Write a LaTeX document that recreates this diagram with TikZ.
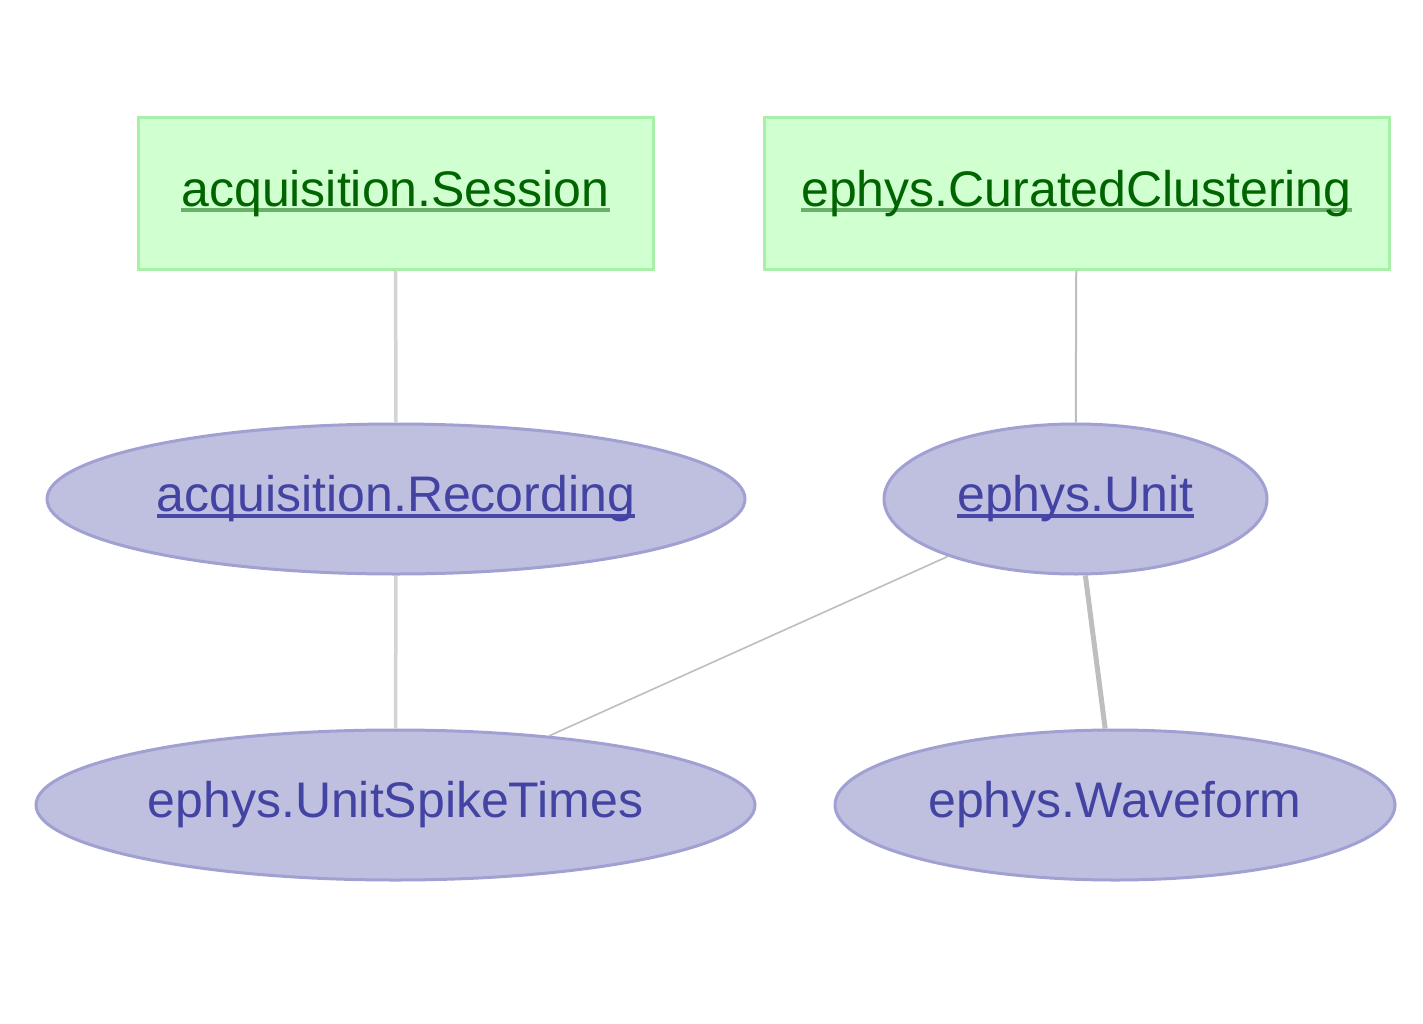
\documentclass[tikz,border=0pt]{standalone}
\usepackage{fontspec}
\setmainfont{Liberation Sans}
\usetikzlibrary{shapes.geometric}
\definecolor{mfill}{HTML}{D0FFD0}
\definecolor{mdraw}{HTML}{A8F0A8}
\definecolor{mtext}{HTML}{006400}
\definecolor{mul}{HTML}{6AB06A}
\definecolor{cfill}{HTML}{BFC0DF}
\definecolor{cdraw}{HTML}{A0A0D2}
\definecolor{ctext}{HTML}{4343A3}
\definecolor{cul}{HTML}{4848A8}
\definecolor{eA}{HTML}{D4D4D4}
\definecolor{eB}{HTML}{BEBEBE}
\newcommand{\myul}[2]{\setbox0\hbox{#2}\rlap{\color{#1}\rule[-6pt]{\wd0}{4pt}}\box0}
\tikzset{
  manual/.style={rectangle, draw=mdraw, fill=mfill, line width=3pt, text=mtext, inner sep=0pt, font=\fontsize{50}{60}\selectfont},
  computed/.style={ellipse, draw=cdraw, fill=cfill, line width=3pt, text=ctext, inner sep=0pt, font=\fontsize{50}{60}\selectfont},
  edgeA/.style={draw=eA, line width=3.5pt},
  edgeB/.style={draw=eB, line width=2pt},
  edgeC/.style={draw=eB, line width=1.6pt},
  edgeD/.style={draw=eB, line width=5pt},
}
\newcommand{\up}[1]{\raisebox{4pt}{#1}}
\begin{document}
\begin{tikzpicture}[x=1pt,y=-1pt]
\useasboundingbox[fill=white] (0,0) rectangle (1423,1024);
\node[manual, minimum width=515pt, minimum height=151pt] (sess) at (395.5,193.5) {\up{\myul{mul}{acquisition.Session}}};
\node[manual, minimum width=625pt, minimum height=151pt] (cc) at (1076.5,193.5) {\up{\myul{mul}{ephys.CuratedClustering}}};
\node[computed, minimum width=698pt, minimum height=150pt] (rec) at (396,499) {\up{\myul{cul}{acquisition.Recording}}};
\node[computed, minimum width=383pt, minimum height=150pt] (unit) at (1075.5,499) {\up{\myul{cul}{ephys.Unit}}};
\node[computed, minimum width=719pt, minimum height=150pt] (ust) at (395.5,805) {\up{ephys.UnitSpikeTimes}};
\node[computed, minimum width=560pt, minimum height=150pt] (wf) at (1115,805) {\up{ephys.Waveform}};
\draw[edgeA] (sess) -- (rec);
\draw[edgeB] (cc) -- (unit);
\draw[edgeA] (rec) -- (ust);
\draw[edgeC] (unit) -- (ust);
\draw[edgeD] (unit) -- (wf);
\end{tikzpicture}
\end{document}
